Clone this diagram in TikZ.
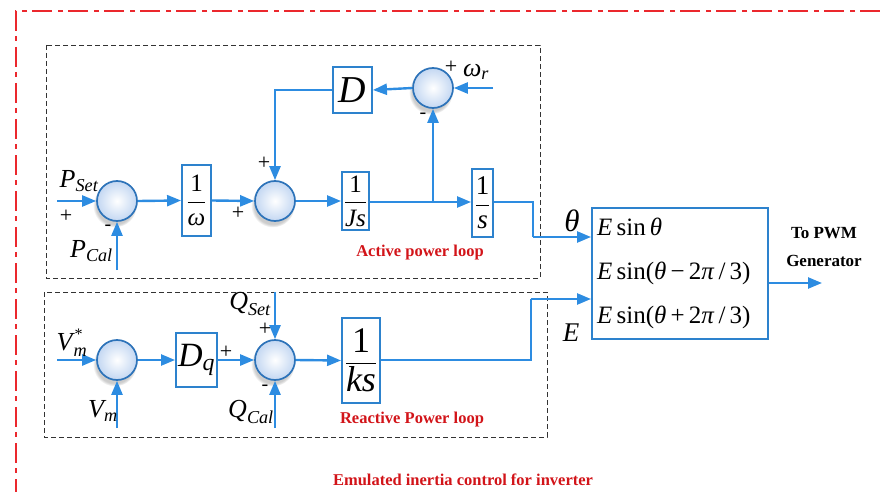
\documentclass[tikz,border=0pt]{standalone}
\usepackage{amsmath}
\usepackage{fontspec}
\setmainfont{Liberation Serif}
\usetikzlibrary{arrows.meta,shadows}
\definecolor{lineblue}{RGB}{45,140,225}
\definecolor{boxblue}{RGB}{45,130,205}
\definecolor{circblue}{RGB}{45,115,185}
\definecolor{circfill}{RGB}{195,215,242}
\definecolor{textred}{RGB}{210,20,25}
\definecolor{framered}{RGB}{235,40,45}
\newcommand{\fsz}[1]{\fontsize{#1}{#1}\selectfont}
\begin{document}
\begin{tikzpicture}[x=1pt,y=-1pt,
  sumnode/.style={circle,minimum size=40pt,inner sep=0pt,draw=circblue,line width=1.7pt,
    inner color=white,outer color=circfill,
    circular drop shadow={shadow xshift=-2pt,shadow yshift=-4pt,opacity=0.4}},
  tfbox/.style={rectangle,draw=boxblue,line width=1.9pt,fill=white,inner sep=0pt},
  sig/.style={draw=lineblue,line width=2.4pt,-{Triangle[length=14pt,width=11pt]}},
  wire/.style={draw=lineblue,line width=2.4pt},
  loopbox/.style={draw=black!80,line width=0.9pt,dash pattern=on 5pt off 3pt},
  lbl/.style={inner sep=0pt,font=\fsz{26}},
  pm/.style={inner sep=0pt,font=\fsz{22}},
  mn/.style={inner sep=0pt,font=\fsz{20}},
  redlbl/.style={inner sep=0pt,text=textred,font=\bfseries\fsz{16.5}},
]
\useasboundingbox (0,0) rectangle (880,492);
% outer red frame
\draw[framered,line width=1.5pt,dash pattern=on 20pt off 5pt on 5pt off 6pt] (880,11) -- (16,11) -- (16,492);
% loop boxes
\draw[loopbox] (46,45) rectangle (540,278);
\draw[loopbox] (44,292) rectangle (547,437);

% ---------- Active power loop ----------
\node[sumnode] (s1) at (117,201) {};
\node[sumnode] (s2) at (275,201) {};
\node[sumnode] (s3) at (433,88) {};
\node[tfbox,minimum width=29pt,minimum height=71pt] (bw) at (196.5,200.5)
  {\fsz{25}$\displaystyle\frac{\mbox{1}}{\mbox{\itshape ω}}$};
\node[tfbox,minimum width=27pt,minimum height=58pt] (bJs) at (355.5,201)
  {\fsz{25}$\displaystyle\frac{\mbox{1}}{\mbox{\itshape Js}}$};
\node[tfbox,minimum width=21pt,minimum height=68pt] (bs) at (482.5,203)
  {\fsz{27}$\displaystyle\frac{\mbox{1}}{\mbox{\itshape s}}$};
\node[tfbox,minimum width=39pt,minimum height=46pt] (bD) at (352.5,90)
  {\fsz{38}\itshape D};

\coordinate (pset) at (57,201);
\coordinate (pcal) at (117,270);
\coordinate (wr) at (493,88);
\coordinate (br) at (433,202);

\draw[sig] (pset) -- (s1.west);
\draw[sig] (pcal) -- (s1.south);
\draw[sig] (s1.east) -- (bw.west);
\draw[sig] (bw.east) -- (s2.west);
\draw[sig] (s2.east) -- (bJs.west);
\draw[sig] (bJs.east |- br) -- (bs.west |- br);
\draw[sig] (br) -- (s3.south);
\draw[sig] (wr) -- (s3.east);
\draw[sig] (s3.west) -- (bD.east);
\draw[sig] (bD.west) -| (s2.north);

\node[lbl] (lpset) at (79,181) {$\textit{P}_{\textit{Set}}$};
\node[pm] (p1) at (66,216) {+};
\node[mn] (m1) at (108,228) {-};
\node[lbl,anchor=east] (lpcal) at (113,251) {$\textit{P}_{\textit{Cal}}$};
\node[pm] (p2) at (238,213) {+};
\node[pm] (p3) at (264,163) {+};
\node[pm] (p4) at (451,67) {+};
\node[lbl] (lwr) at (476,72) {$\textit{ω}_{\textit{r}}$};
\node[mn] (m2) at (423,116) {-};
\node[redlbl] (act) at (420,253) {Active power loop};

% ---------- Reactive power loop ----------
\node[sumnode] (s4) at (117,360) {};
\node[sumnode] (s5) at (275,360) {};
\node[tfbox,minimum width=41pt,minimum height=54pt] (bDq) at (196.5,360)
  {\fsz{34}$\textit{D}_{\textit{q}}$};
\node[tfbox,minimum width=38pt,minimum height=85pt] (bks) at (361,360.5)
  {\fsz{36}$\displaystyle\frac{\mbox{1}}{\mbox{\itshape ks}}$};

\coordinate (vref) at (57,360);
\coordinate (vm) at (117,428);
\coordinate (qset) at (275,292);
\coordinate (qcal) at (275,428);

\draw[sig] (vref) -- (s4.west);
\draw[sig] (vm) -- (s4.south);
\draw[sig] (s4.east) -- (bDq.west);
\draw[sig] (bDq.east) -- (s5.west);
\draw[sig] (s5.east) -- (bks.west);
\draw[sig] (qset) -- (s5.north);
\draw[sig] (qcal) -- (s5.south);

\node[lbl] (lvref) at (72,343) {$\textit{V}_{\hspace{1pt}\textit{m}}^{\hspace{2pt}\mbox{\fsz{16}*}}$};
\node[lbl] (lvm) at (103,411) {$\textit{V}_{\textit{m}}$};
\node[pm] (p5) at (226,352) {+};
\node[lbl,anchor=east] (lqset) at (271,304) {$\textit{Q}_{\textit{Set}}$};
\node[pm] (p6) at (265,329) {+};
\node[mn] (m3) at (265,388) {-};
\node[lbl,anchor=east] (lqcal) at (274,412) {$\textit{Q}_{\textit{Cal}}$};
\node[redlbl] (rea) at (412,420) {Reactive Power loop};

% ---------- output block ----------
\node[tfbox,minimum width=176pt,minimum height=131pt] (big) at (680,273.5) {};
\node[anchor=west,inner sep=0pt,font=\fsz{25}] (e1) at (597,227) {\textit{E}\,sin\,\textit{θ}};
\node[anchor=west,inner sep=0pt,font=\fsz{25}] (e2) at (597,273) {\textit{E}\,sin(\textit{θ}\,−\,2\textit{π}\,/\,3)};
\node[anchor=west,inner sep=0pt,font=\fsz{25}] (e3) at (597,317) {\textit{E}\,sin(\textit{θ}\,+\,2\textit{π}\,/\,3)};

\coordinate (thA) at (533,202);
\coordinate (thB) at (533,237);
\coordinate (eA) at (531,360);
\coordinate (eB) at (531,299);
\draw[wire] (bs.east |- thA) -- (thA) -- (thB);
\draw[sig] (thB) -- (big.west |- thB);
\draw[wire] (bks.east |- eA) -- (eA) -- (eB);
\draw[sig] (eB) -- (big.west |- eB);

\node[inner sep=0pt,font=\fsz{31}\itshape] (lth) at (572,221) {θ};
\node[inner sep=0pt,font=\fsz{27}\itshape] (lE) at (571,333) {E};

\coordinate (out) at (822,283);
\draw[sig] (big.east |- out) -- (out);
\node[align=center,inner sep=0pt,font=\bfseries\fsz{17}] (pwm) at (824,247) {To PWM\\[11pt]Generator};

\node[redlbl] (emu) at (463,480) {Emulated inertia control for inverter};
\end{tikzpicture}
\end{document}
